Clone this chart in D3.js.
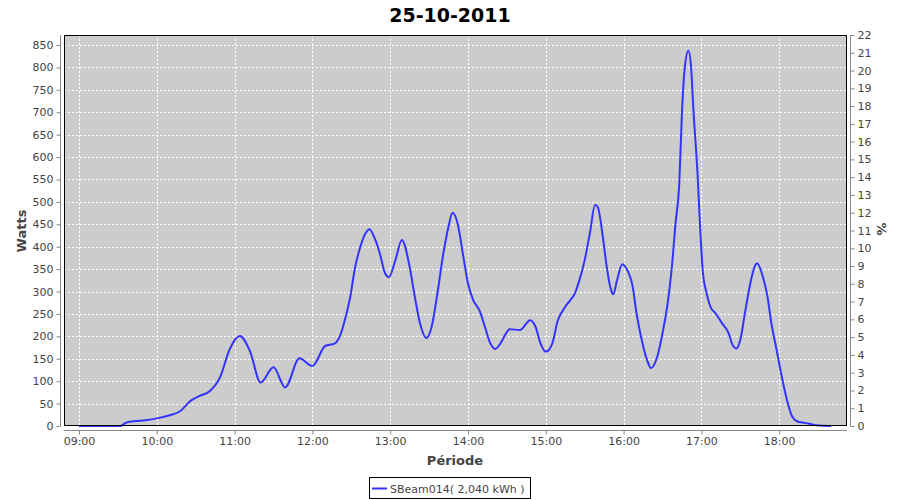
<!DOCTYPE html>
<html><head><meta charset="utf-8">
<script src="https://cdn.jsdelivr.net/npm/d3@7"></script>
<style>body{margin:0;background:#fff}svg{display:block;font-family:"DejaVu Sans",sans-serif}</style>
</head><body><svg id="c" width="900" height="500"></svg>
<script>
const title = "25-10-2011";
const seriesName = "SBeam014( 2,040 kWh )";
const times = ["09:00","09:32","09:36","09:42","09:51","10:00","10:10","10:18","10:26","10:33","10:41","10:49","10:56","11:04","11:12","11:20","11:30","11:39","11:50","12:00","12:10","12:17","12:21","12:25","12:29","12:33","12:37","12:41","12:44","12:48","12:52","12:56","12:59","13:04","13:09","13:15","13:19","13:23","13:28","13:32","13:36","13:41","13:45","13:48","13:52","13:56","14:00","14:04","14:09","14:13","14:17","14:21","14:25","14:29","14:32","14:40","14:48","14:52","14:56","15:00","15:05","15:09","15:15","15:23","15:26","15:30","15:34","15:38","15:40","15:44","15:47","15:50","15:52","15:55","15:59","16:02","16:07","16:10","16:14","16:19","16:21","16:26","16:30","16:34","16:37","16:40","16:43","16:45","16:47","16:50","16:52","16:54","16:57","16:59","17:01","17:04","17:07","17:11","17:16","17:21","17:24","17:27","17:30","17:34","17:38","17:41","17:43","17:47","17:51","17:54","17:58","18:02","18:06","18:10","18:14","18:20","18:25","18:29","18:40"];
const watts = [0,0,7,10.5,13,17,24,33,56,67,78,110,170,201,166,97,131,86,151,134,179,184,199,236,285,355,400,430,439,419,385,341,332,370,415,355,288,229,196,222,288,385,445,476,452,385,318,281,257,222,186,172,184,205,216,214,236,222,184,166,184,233,266,300,326,370,430,493,489,422,355,307,294,326,361,352,311,251,192,140,129,155,207,274,348,450,545,698,794,837,802,698,564,445,348,296,266,251,229,207,181,173,192,259,322,355,363,337,288,229,170,110,58,21,10,7,4,1.5,0];
const leftTicks = d3.range(0, 851, 50);
const rightTicks = d3.range(0, 23, 1);
const xDomainStart = "08:48:26", xDomainEnd = "18:52:18";

const parse = d3.timeParse("%Y-%m-%d %H:%M");
const parseS = d3.timeParse("%Y-%m-%d %H:%M:%S");
const day = "2011-10-25 ";
const data = times.map((t,i)=>({t:parse(day+t), v:watts[i]}));

const svg = d3.select("#c");
const L=64, R=847, T=35, B=426;
const x = d3.scaleTime().domain([parseS(day+xDomainStart), parseS(day+xDomainEnd)]).range([L,R]);
const y = d3.scaleLinear().domain([0, 872.3]).range([B,T]);
const y2 = d3.scaleLinear().domain([0, 22]).range([B,T]);

svg.append("rect").attr("x",L).attr("y",T).attr("width",R-L).attr("height",B-T).attr("fill","#cccccc");

const hourTicks = d3.timeHour.range(parse(day+"09:00"), parse(day+"18:30"));
// grid
svg.append("g").selectAll("line").data(leftTicks).join("line")
  .attr("x1",L).attr("x2",R).attr("y1",d=>Math.round(y(d))+0.5).attr("y2",d=>Math.round(y(d))+0.5)
  .attr("stroke","#fff").attr("stroke-width",1).attr("stroke-dasharray","2,2");
svg.append("g").selectAll("line").data(hourTicks).join("line")
  .attr("y1",T).attr("y2",B).attr("x1",d=>Math.round(x(d))+0.5).attr("x2",d=>Math.round(x(d))+0.5)
  .attr("stroke","#fff").attr("stroke-width",1).attr("stroke-dasharray","2,2");

// line
svg.append("path").datum(data)
  .attr("d", d3.line().x(d=>x(d.t)).y(d=>y(d.v)).curve(d3.curveMonotoneX))
  .attr("fill","none").attr("stroke","#3333ff").attr("stroke-width",2);

svg.append("rect").attr("x",L+0.5).attr("y",T+0.5).attr("width",R-L-1).attr("height",B-T-1)
  .attr("fill","none").attr("stroke","#000").attr("stroke-width",1);

function style(g){
  g.select(".domain").attr("stroke","#888");
  g.selectAll(".tick line").attr("stroke","#888");
  g.selectAll(".tick text").attr("fill","#444").style("font-size","11px").style("font-family","DejaVu Sans, sans-serif");
}
svg.append("g").attr("transform",`translate(60.5,0)`)
  .call(d3.axisLeft(y).tickValues(leftTicks).tickSize(4).tickSizeOuter(0).tickPadding(3)).call(style)
  .call(g=>g.select(".domain").attr("d",`M0,${T}V${B}`));
svg.append("g").attr("transform",`translate(850.5,0)`)
  .call(d3.axisRight(y2).tickValues(rightTicks).tickSize(4).tickSizeOuter(0).tickPadding(3)).call(style)
  .call(g=>g.select(".domain").attr("d",`M0,${T}V${B}`));
svg.append("g").attr("transform",`translate(0,430.5)`)
  .call(d3.axisBottom(x).tickValues(hourTicks).tickFormat(d3.timeFormat("%H:%M")).tickSize(4).tickSizeOuter(0).tickPadding(3)).call(style)
  .call(g=>g.select(".domain").attr("d",`M${L},0H${R}`));

svg.append("text").attr("x",450).attr("y",22).attr("text-anchor","middle")
  .style("font-size","19px").style("font-weight","bold").attr("fill","#000").text(title);
svg.append("text").attr("transform","translate(26,231) rotate(-90)").attr("text-anchor","middle")
  .style("font-size","13px").style("font-weight","bold").attr("fill","#444").text("Watts");
svg.append("text").attr("transform","translate(877,229) rotate(90)").attr("text-anchor","middle")
  .style("font-size","13px").style("font-weight","bold").attr("fill","#444").text("%");
svg.append("text").attr("x",455).attr("y",465).attr("text-anchor","middle")
  .style("font-size","13px").style("font-weight","bold").attr("fill","#444").text("Période");

const lg = svg.append("g");
lg.append("rect").attr("x",369.5).attr("y",477.5).attr("width",161).attr("height",21).attr("fill","#fff").attr("stroke","#000");
lg.append("line").attr("x1",372).attr("x2",387).attr("y1",488.5).attr("y2",488.5).attr("stroke","#3333ff").attr("stroke-width",2);
lg.append("text").attr("x",390).attr("y",492.5).style("font-size","11px").attr("fill","#444").text(seriesName);
</script></body></html>
